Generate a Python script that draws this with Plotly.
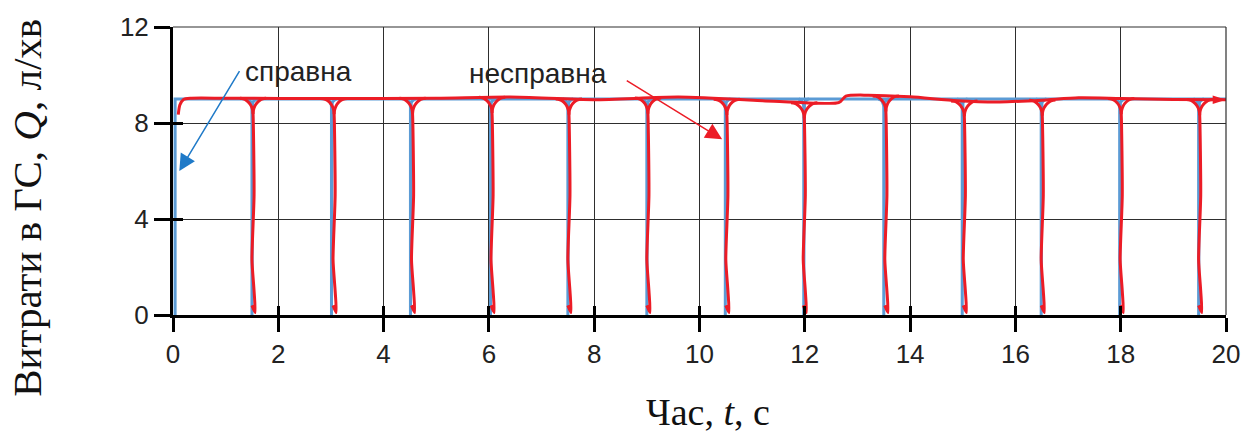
import numpy as np
import plotly.graph_objects as go

# Axis ticks
x_ticks = [0, 2, 4, 6, 8, 10, 12, 14, 16, 18, 20]
y_ticks = [0, 4, 8, 12]

# Healthy system (справна): nominal flow with short pulses to zero
q_nominal = 9.0
blue_rise_t = 0.04
blue_drop_t = [1.50, 3.01, 4.51, 6.03, 7.50, 9.00, 10.49, 11.98, 13.50, 14.99, 16.49, 17.98, 19.48]

# Faulty system (несправна): flow trace and its drop instants
red_base_t = [0.10, 0.13, 0.20, 0.35, 1.0, 3.0, 5.0, 6.4, 8.0, 9.6, 11.2, 12.0, 12.6,
              12.68, 12.78, 13.2, 14.0, 14.9, 15.7, 16.5, 17.2, 18.0, 19.0, 20.0]
red_base_q = [8.35, 8.75, 8.98, 9.03, 9.03, 9.02, 9.03, 9.08, 8.97, 9.08, 8.93, 8.84, 8.83,
              8.90, 9.12, 9.16, 9.09, 8.93, 8.88, 8.95, 9.05, 9.02, 8.98, 8.97]
red_drop_t = [1.53, 3.07, 4.56, 6.07, 7.53, 9.03, 10.53, 12.00, 13.55, 15.04, 16.52, 18.02, 19.51]
red_drop_bottom_q = 0.1

RED = "#ec1c26"
BLUE = "#5b9bd5"


def arm(xc, qb, side, rx, ry, n=7):
    """Quarter-arc fillet joining the horizontal trace into a vertical drop."""
    phi = np.linspace(0, np.pi / 2, n)
    xs = xc + side * (rx - rx * np.sin(phi))
    qs = qb - ry + ry * np.cos(phi)
    return list(xs), list(qs)


# Blue pulses
bx, by = [], []
for tb in blue_drop_t:
    lx, ly = arm(tb, q_nominal, -1, 0.10, 0.35)
    rx_, ry_ = arm(tb, q_nominal, 1, 0.10, 0.35)
    bx += lx + [tb] + rx_[::-1] + [None]
    by += ly + [0.0] + ry_[::-1] + [None]

# Red drops with slight waviness on the way down
rdx, rdy = [], []
for td in red_drop_t:
    qb = float(np.interp(td, red_base_t, red_base_q))
    lx, ly = arm(td - 0.01, qb, -1, 0.25, 0.65)
    rdx += lx + [td + 0.01, td - 0.03, td + 0.01, td + 0.03, td - 0.03, None]
    rdy += ly + [5.0, 2.3, 1.0, red_drop_bottom_q, 0.4, None]
    rx_, ry_ = arm(td - 0.01, qb, 1, 0.25, 0.65)
    rdx += rx_ + [None]
    rdy += ry_ + [None]

fig = go.Figure()

fig.add_trace(go.Scatter(
    x=[blue_rise_t, blue_rise_t, 20], y=[0, q_nominal, q_nominal],
    mode="lines", line=dict(color=BLUE, width=3), hoverinfo="skip"))
fig.add_trace(go.Scatter(
    x=bx, y=by, mode="lines", line=dict(color=BLUE, width=3), hoverinfo="skip"))
fig.add_trace(go.Scatter(
    x=rdx, y=rdy, mode="lines", line=dict(color=RED, width=3, shape="spline", smoothing=0.6),
    hoverinfo="skip"))
fig.add_trace(go.Scatter(
    x=red_base_t, y=red_base_q, mode="lines",
    line=dict(color=RED, width=3, shape="spline", smoothing=0.7), hoverinfo="skip"))
# Arrow tip at the end of the faulty-system trace
fig.add_trace(go.Scatter(
    x=[red_base_t[-1]], y=[red_base_q[-1]], mode="markers",
    marker=dict(symbol="arrow", angle=90, size=14, color=RED, line=dict(width=0)),
    cliponaxis=False, hoverinfo="skip"))
# Carrier for the inside-tick overlay axes
fig.add_trace(go.Scatter(x=[], y=[], xaxis="x2", yaxis="y2", hoverinfo="skip"))

tick_font = dict(family="Liberation Sans, Arial, sans-serif", size=26, color="#222222")
grid_col = "#2e2e2e"

fig.update_layout(
    width=1257, height=437,
    margin=dict(l=173, r=31, t=25, b=122),
    paper_bgcolor="white", plot_bgcolor="white",
    showlegend=False,
    xaxis=dict(range=[0, 20], tickvals=x_ticks, ticks="outside", ticklen=14, tickwidth=3,
               tickcolor="black", showline=True, linecolor="black", linewidth=3,
               showgrid=True, gridcolor=grid_col, gridwidth=1.2, zeroline=False,
               tickfont=tick_font),
    yaxis=dict(range=[0, 12], tickvals=y_ticks, ticks="outside", ticklen=16, tickwidth=3,
               tickcolor="black", showline=True, linecolor="black", linewidth=3,
               showgrid=True, gridcolor=grid_col, gridwidth=1.2, zeroline=False,
               tickfont=tick_font),
    xaxis2=dict(range=[0, 20], tickvals=x_ticks, overlaying="x", anchor="y", ticks="inside",
                ticklen=9, tickwidth=3, tickcolor="black", showticklabels=False,
                showgrid=False, zeroline=False, showline=False),
    yaxis2=dict(range=[0, 12], tickvals=y_ticks, overlaying="y", anchor="x", side="left",
                ticks="inside", ticklen=10, tickwidth=3, tickcolor="black",
                showticklabels=False, showgrid=False, zeroline=False, showline=False),
)

# Thin frame on top and right
fig.add_shape(type="line", xref="paper", yref="paper", x0=0, x1=1, y0=1, y1=1,
              line=dict(color=grid_col, width=1.2))
fig.add_shape(type="line", xref="paper", yref="paper", x0=1, x1=1, y0=0, y1=1,
              line=dict(color=grid_col, width=1.2))

label_font = dict(family="Liberation Sans, Arial, sans-serif", size=28, color="#222222")
serif_x = dict(family="Liberation Serif, Times New Roman, serif", size=38, color="#111111")
serif_y = dict(family="Liberation Serif, Times New Roman, serif", size=41, color="#111111")

fig.add_annotation(x=1.33, y=10.14, xref="x", yref="y", text="справна", showarrow=False,
                   xanchor="left", yanchor="middle", font=label_font)
fig.add_annotation(x=5.59, y=10.05, xref="x", yref="y", text="несправна", showarrow=False,
                   xanchor="left", yanchor="middle", font=label_font)
fig.add_annotation(x=0.12, y=6.0, ax=1.28, ay=10.22, xref="x", yref="y", axref="x", ayref="y",
                   text="", showarrow=True, arrowhead=2, arrowsize=2.2, arrowwidth=1.5,
                   arrowcolor="#1f7ac8")
fig.add_annotation(x=10.43, y=7.32, ax=8.59, ay=9.8, xref="x", yref="y", axref="x", ayref="y",
                   text="", showarrow=True, arrowhead=2, arrowsize=2.2, arrowwidth=1.5,
                   arrowcolor=RED)

fig.add_annotation(x=(708 - 173) / 1053, y=-(413 - 315) / 290, xref="paper", yref="paper",
                   text="Час, <i>t</i>, с", showarrow=False, xanchor="center",
                   yanchor="middle", font=serif_x)
fig.add_annotation(x=-(173 - 27) / 1053, y=(315 - 207) / 290, xref="paper", yref="paper",
                   text="Витрати в ГС, <i>Q</i>, л/хв", showarrow=False, textangle=-90,
                   xanchor="center", yanchor="middle", font=serif_y)

fig.write_html("out.html")
